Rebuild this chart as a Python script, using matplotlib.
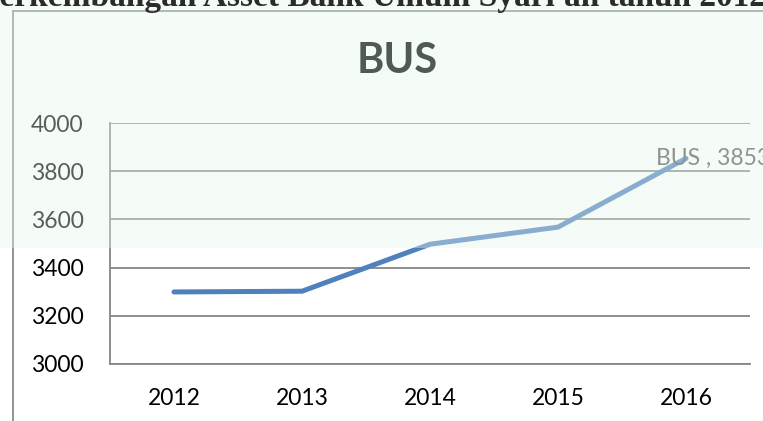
import matplotlib
matplotlib.use("Agg")
import matplotlib.pyplot as plt
from matplotlib.patches import Rectangle
from matplotlib.lines import Line2D

years = ["2012", "2013", "2014", "2015", "2016"]
assets = [3299, 3302, 3497, 3568, 3853]
series_name = "BUS"
chart_title = "BUS"
heading = "Perkembangan Asset Bank Umum Syari'ah tahun 2012-2016"
y_ticks = [3000, 3200, 3400, 3600, 3800, 4000]

W, H = 763, 421
fig = plt.figure(figsize=(W / 100, H / 100), dpi=100)
fig.patch.set_facecolor("white")

ax = fig.add_axes([110 / W, 1 - 364 / H, 640 / W, 241 / H])
ax.set_facecolor("none")
x = list(range(len(years)))
ax.plot(x, assets, color="#4F81BD", lw=3.6, solid_capstyle="round",
        solid_joinstyle="miter", zorder=3)
ax.set_xlim(-0.5, len(years) - 0.5)
ax.set_ylim(y_ticks[0], y_ticks[-1])
ax.set_yticks(y_ticks)
ax.set_xticks(x)
ax.set_xticklabels(years)
ax.grid(axis="y", color="#868686", lw=1.3)
ax.set_axisbelow(True)
for s in ["top", "right"]:
    ax.spines[s].set_visible(False)
for s in ["left", "bottom"]:
    ax.spines[s].set_color("#868686")
    ax.spines[s].set_linewidth(1.3)
ax.tick_params(axis="both", length=0, labelsize=16.5, colors="black")
ax.tick_params(axis="y", pad=19)
ax.tick_params(axis="x", pad=17)
for lab in ax.get_xticklabels() + ax.get_yticklabels():
    lab.set_fontfamily("Lato")

ax.annotate(f"{series_name} , {assets[-1]}", xy=(x[-1], assets[-1]),
            xytext=(-30 * 0.72, 0), textcoords="offset points",
            ha="left", va="center", fontsize=16.5, color="#595959",
            family="Lato", annotation_clip=False, zorder=5)

# chart-area border lines
fig.add_artist(Line2D([13 / W, 13 / W], [0, 1 - 11 / H], color="#8a8a8a",
                      lw=1.3, transform=fig.transFigure))
fig.add_artist(Line2D([13 / W, 1], [1 - 11 / H, 1 - 11 / H], color="#8a8a8a",
                      lw=1.3, transform=fig.transFigure))

# watermark tint over upper part of scan
fig.add_artist(Rectangle((0, 1 - 248 / H), 1, 248 / H, transform=fig.transFigure,
                         facecolor="#e6f5ea", alpha=0.38, edgecolor="none",
                         zorder=20))

fig.text(397 / W, 1 - 61 / H, chart_title, ha="center", va="center",
         fontsize=30, fontweight="bold", color="#505a55", family="Lato",
         zorder=30)

# page heading (cut off at top of scan)
fig.text(-21 / W, 1 - 6 / H, heading, ha="left", va="baseline",
         fontsize=24, fontweight="bold", color="#2b2b2b",
         family="Liberation Serif", zorder=30)

fig.savefig("out.png", dpi=100)
